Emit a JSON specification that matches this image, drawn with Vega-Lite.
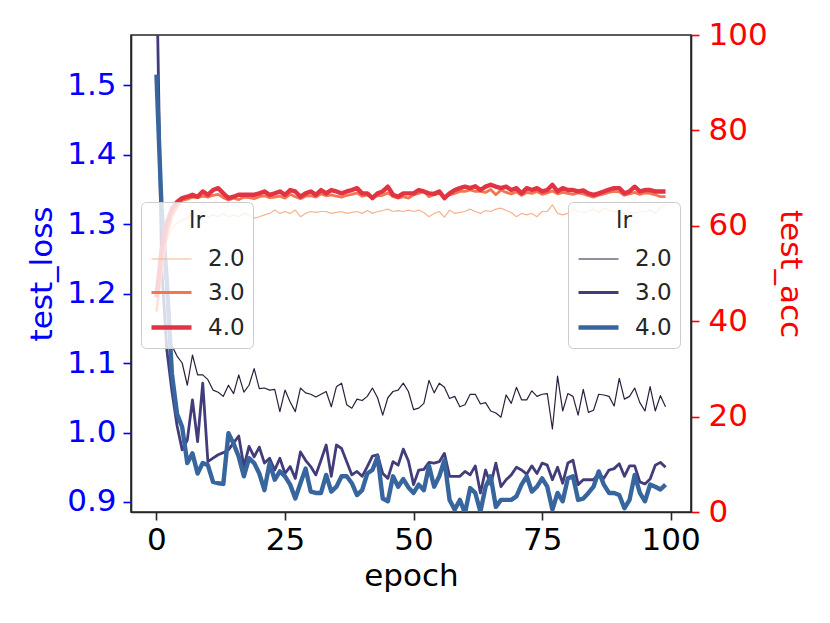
{
  "$schema": "https://vega.github.io/schema/vega-lite/v6.json",
  "width": 560,
  "height": 477,
  "autosize": "none",
  "padding": {"left": 131, "top": 35, "right": 139, "bottom": 111},
  "background": "white",
  "config": {
    "font": "DejaVu Sans",
    "view": {"stroke": "#262626", "strokeWidth": 1.6},
    "axis": {
      "labelFont": "DejaVu Sans", "titleFont": "DejaVu Sans",
      "labelFontSize": 31, "titleFontSize": 31, "titleFontWeight": "normal",
      "tickSize": 8, "tickWidth": 1.6, "domainWidth": 1.6, "domainColor": "#262626",
      "grid": false, "labelPadding": 6
    },
    "legend": {
      "orient": "none",
      "fillColor": "rgba(255,255,255,0.8)", "strokeColor": "#cccccc", "cornerRadius": 5,
      "padding": 8, "symbolType": "stroke", "symbolSize": 1600,
      "labelFont": "DejaVu Sans", "titleFont": "DejaVu Sans",
      "labelFontSize": 23, "titleFontSize": 23, "titleFontWeight": "normal",
      "titleAnchor": "middle", "titleAlign": "center", "labelColor": "#262626", "titleColor": "#262626",
      "rowPadding": -6, "labelOffset": 14
    }
  },
  "data": {"values": [
    {"epoch":0,"lr":"2.0","loss":1.64,"acc":46},{"epoch":1,"lr":"2.0","loss":1.30,"acc":53},{"epoch":2,"lr":"2.0","loss":1.19,"acc":57},{"epoch":3,"lr":"2.0","loss":1.125,"acc":59.5},{"epoch":4,"lr":"2.0","loss":1.11,"acc":60.5},
    {"epoch":5,"lr":"2.0","loss":1.10,"acc":61.2},{"epoch":6,"lr":"2.0","loss":1.068,"acc":61.6},{"epoch":7,"lr":"2.0","loss":1.1115,"acc":62.6},{"epoch":8,"lr":"2.0","loss":1.083,"acc":61.9},{"epoch":9,"lr":"2.0","loss":1.083,"acc":63.0},
    {"epoch":10,"lr":"2.0","loss":1.076,"acc":61.9},{"epoch":11,"lr":"2.0","loss":1.061,"acc":62.3},{"epoch":12,"lr":"2.0","loss":1.058,"acc":61.9},{"epoch":13,"lr":"2.0","loss":1.052,"acc":62.6},{"epoch":14,"lr":"2.0","loss":1.068,"acc":61.9},
    {"epoch":15,"lr":"2.0","loss":1.056,"acc":62.3},{"epoch":16,"lr":"2.0","loss":1.083,"acc":61.9},{"epoch":17,"lr":"2.0","loss":1.058,"acc":62.6},{"epoch":18,"lr":"2.0","loss":1.068,"acc":62.3},{"epoch":19,"lr":"2.0","loss":1.092,"acc":61.6},
    {"epoch":20,"lr":"2.0","loss":1.063,"acc":61.9},{"epoch":21,"lr":"2.0","loss":1.064,"acc":62.3},{"epoch":22,"lr":"2.0","loss":1.061,"acc":62.6},{"epoch":23,"lr":"2.0","loss":1.062,"acc":63.3},{"epoch":24,"lr":"2.0","loss":1.030,"acc":62.6},
    {"epoch":25,"lr":"2.0","loss":1.061,"acc":63.0},{"epoch":26,"lr":"2.0","loss":1.044,"acc":62.6},{"epoch":27,"lr":"2.0","loss":1.030,"acc":63.3},{"epoch":28,"lr":"2.0","loss":1.064,"acc":61.9},{"epoch":29,"lr":"2.0","loss":1.057,"acc":62.6},
    {"epoch":30,"lr":"2.0","loss":1.055,"acc":63.0},{"epoch":31,"lr":"2.0","loss":1.051,"acc":62.8},{"epoch":32,"lr":"2.0","loss":1.055,"acc":63.0},{"epoch":33,"lr":"2.0","loss":1.059,"acc":63.0},{"epoch":34,"lr":"2.0","loss":1.037,"acc":62.6},
    {"epoch":35,"lr":"2.0","loss":1.066,"acc":62.8},{"epoch":36,"lr":"2.0","loss":1.071,"acc":63.0},{"epoch":37,"lr":"2.0","loss":1.040,"acc":62.6},{"epoch":38,"lr":"2.0","loss":1.035,"acc":62.8},{"epoch":39,"lr":"2.0","loss":1.048,"acc":63.0},
    {"epoch":40,"lr":"2.0","loss":1.046,"acc":62.6},{"epoch":41,"lr":"2.0","loss":1.052,"acc":63.2},{"epoch":42,"lr":"2.0","loss":1.064,"acc":62.6},{"epoch":43,"lr":"2.0","loss":1.050,"acc":63.0},{"epoch":44,"lr":"2.0","loss":1.025,"acc":63.2},
    {"epoch":45,"lr":"2.0","loss":1.050,"acc":63.5},{"epoch":46,"lr":"2.0","loss":1.059,"acc":63.0},{"epoch":47,"lr":"2.0","loss":1.061,"acc":63.2},{"epoch":48,"lr":"2.0","loss":1.071,"acc":63.0},{"epoch":49,"lr":"2.0","loss":1.059,"acc":63.3},
    {"epoch":50,"lr":"2.0","loss":1.033,"acc":63.0},{"epoch":51,"lr":"2.0","loss":1.035,"acc":63.3},{"epoch":52,"lr":"2.0","loss":1.042,"acc":62.8},{"epoch":53,"lr":"2.0","loss":1.075,"acc":61.9},{"epoch":54,"lr":"2.0","loss":1.057,"acc":62.6},
    {"epoch":55,"lr":"2.0","loss":1.071,"acc":63.0},{"epoch":56,"lr":"2.0","loss":1.065,"acc":61.8},{"epoch":57,"lr":"2.0","loss":1.049,"acc":63.3},{"epoch":58,"lr":"2.0","loss":1.052,"acc":62.6},{"epoch":59,"lr":"2.0","loss":1.037,"acc":62.8},
    {"epoch":60,"lr":"2.0","loss":1.040,"acc":63.0},{"epoch":61,"lr":"2.0","loss":1.055,"acc":63.5},{"epoch":62,"lr":"2.0","loss":1.055,"acc":63.0},{"epoch":63,"lr":"2.0","loss":1.041,"acc":62.6},{"epoch":64,"lr":"2.0","loss":1.043,"acc":63.2},
    {"epoch":65,"lr":"2.0","loss":1.031,"acc":63.0},{"epoch":66,"lr":"2.0","loss":1.028,"acc":63.5},{"epoch":67,"lr":"2.0","loss":1.022,"acc":63.7},{"epoch":68,"lr":"2.0","loss":1.054,"acc":63.2},{"epoch":69,"lr":"2.0","loss":1.042,"acc":62.8},
    {"epoch":70,"lr":"2.0","loss":1.065,"acc":61.9},{"epoch":71,"lr":"2.0","loss":1.047,"acc":62.6},{"epoch":72,"lr":"2.0","loss":1.047,"acc":62.3},{"epoch":73,"lr":"2.0","loss":1.060,"acc":62.6},{"epoch":74,"lr":"2.0","loss":1.052,"acc":61.9},
    {"epoch":75,"lr":"2.0","loss":1.055,"acc":63.0},{"epoch":76,"lr":"2.0","loss":1.056,"acc":63.0},{"epoch":77,"lr":"2.0","loss":1.005,"acc":64.4},{"epoch":78,"lr":"2.0","loss":1.081,"acc":62.6},{"epoch":79,"lr":"2.0","loss":1.031,"acc":62.3},
    {"epoch":80,"lr":"2.0","loss":1.056,"acc":62.6},{"epoch":81,"lr":"2.0","loss":1.052,"acc":63.5},{"epoch":82,"lr":"2.0","loss":1.025,"acc":63.0},{"epoch":83,"lr":"2.0","loss":1.062,"acc":62.8},{"epoch":84,"lr":"2.0","loss":1.029,"acc":63.0},
    {"epoch":85,"lr":"2.0","loss":1.032,"acc":63.5},{"epoch":86,"lr":"2.0","loss":1.055,"acc":62.8},{"epoch":87,"lr":"2.0","loss":1.054,"acc":63.7},{"epoch":88,"lr":"2.0","loss":1.052,"acc":63.3},{"epoch":89,"lr":"2.0","loss":1.038,"acc":63.0},
    {"epoch":90,"lr":"2.0","loss":1.078,"acc":62.8},{"epoch":91,"lr":"2.0","loss":1.048,"acc":62.6},{"epoch":92,"lr":"2.0","loss":1.052,"acc":62.8},{"epoch":93,"lr":"2.0","loss":1.064,"acc":62.6},{"epoch":94,"lr":"2.0","loss":1.043,"acc":63.0},
    {"epoch":95,"lr":"2.0","loss":1.031,"acc":63.0},{"epoch":96,"lr":"2.0","loss":1.066,"acc":63.3},{"epoch":97,"lr":"2.0","loss":1.031,"acc":62.6},{"epoch":98,"lr":"2.0","loss":1.053,"acc":63.9},{"epoch":99,"lr":"2.0","loss":1.037,"acc":64.4},

    {"epoch":0,"lr":"3.0","loss":1.68,"acc":42},{"epoch":1,"lr":"3.0","loss":1.24,"acc":51},{"epoch":2,"lr":"3.0","loss":1.12,"acc":58},{"epoch":3,"lr":"3.0","loss":1.06,"acc":62},{"epoch":4,"lr":"3.0","loss":1.01,"acc":64},
    {"epoch":5,"lr":"3.0","loss":0.975,"acc":65.3},{"epoch":6,"lr":"3.0","loss":0.989,"acc":65.6},{"epoch":7,"lr":"3.0","loss":1.047,"acc":66.0},{"epoch":8,"lr":"3.0","loss":0.987,"acc":65.9},{"epoch":9,"lr":"3.0","loss":1.071,"acc":66.2},
    {"epoch":10,"lr":"3.0","loss":0.958,"acc":66.0},{"epoch":11,"lr":"3.0","loss":0.963,"acc":66.4},{"epoch":12,"lr":"3.0","loss":0.968,"acc":66.6},{"epoch":13,"lr":"3.0","loss":0.971,"acc":65.9},{"epoch":14,"lr":"3.0","loss":0.975,"acc":65.4},
    {"epoch":15,"lr":"3.0","loss":0.985,"acc":65.8},{"epoch":16,"lr":"3.0","loss":0.995,"acc":65.5},{"epoch":17,"lr":"3.0","loss":0.951,"acc":66.0},{"epoch":18,"lr":"3.0","loss":0.980,"acc":65.9},{"epoch":19,"lr":"3.0","loss":0.965,"acc":65.7},
    {"epoch":20,"lr":"3.0","loss":0.979,"acc":66.1},{"epoch":21,"lr":"3.0","loss":0.956,"acc":66.3},{"epoch":22,"lr":"3.0","loss":0.963,"acc":65.9},{"epoch":23,"lr":"3.0","loss":0.946,"acc":66.0},{"epoch":24,"lr":"3.0","loss":0.963,"acc":66.2},
    {"epoch":25,"lr":"3.0","loss":0.941,"acc":65.8},{"epoch":26,"lr":"3.0","loss":0.951,"acc":66.6},{"epoch":27,"lr":"3.0","loss":0.934,"acc":66.1},{"epoch":28,"lr":"3.0","loss":0.972,"acc":65.7},{"epoch":29,"lr":"3.0","loss":0.960,"acc":66.2},
    {"epoch":30,"lr":"3.0","loss":0.951,"acc":66.3},{"epoch":31,"lr":"3.0","loss":0.939,"acc":66.0},{"epoch":32,"lr":"3.0","loss":0.960,"acc":66.7},{"epoch":33,"lr":"3.0","loss":0.982,"acc":66.3},{"epoch":34,"lr":"3.0","loss":0.937,"acc":66.5},
    {"epoch":35,"lr":"3.0","loss":0.982,"acc":66.2},{"epoch":36,"lr":"3.0","loss":0.977,"acc":66.0},{"epoch":37,"lr":"3.0","loss":0.958,"acc":66.4},{"epoch":38,"lr":"3.0","loss":0.939,"acc":66.6},{"epoch":39,"lr":"3.0","loss":0.944,"acc":66.9},
    {"epoch":40,"lr":"3.0","loss":0.937,"acc":66.2},{"epoch":41,"lr":"3.0","loss":0.951,"acc":66.5},{"epoch":42,"lr":"3.0","loss":0.966,"acc":66.0},{"epoch":43,"lr":"3.0","loss":0.968,"acc":66.3},{"epoch":44,"lr":"3.0","loss":0.941,"acc":66.4},
    {"epoch":45,"lr":"3.0","loss":0.934,"acc":66.9},{"epoch":46,"lr":"3.0","loss":0.958,"acc":66.1},{"epoch":47,"lr":"3.0","loss":0.953,"acc":65.8},{"epoch":48,"lr":"3.0","loss":0.976,"acc":66.1},{"epoch":49,"lr":"3.0","loss":0.959,"acc":65.8},
    {"epoch":50,"lr":"3.0","loss":0.925,"acc":66.5},{"epoch":51,"lr":"3.0","loss":0.946,"acc":66.8},{"epoch":52,"lr":"3.0","loss":0.947,"acc":67.2},{"epoch":53,"lr":"3.0","loss":0.957,"acc":66.1},{"epoch":54,"lr":"3.0","loss":0.956,"acc":66.5},
    {"epoch":55,"lr":"3.0","loss":0.958,"acc":66.8},{"epoch":56,"lr":"3.0","loss":0.970,"acc":66.1},{"epoch":57,"lr":"3.0","loss":0.937,"acc":66.5},{"epoch":58,"lr":"3.0","loss":0.937,"acc":66.8},{"epoch":59,"lr":"3.0","loss":0.937,"acc":67.2},
    {"epoch":60,"lr":"3.0","loss":0.944,"acc":67.2},{"epoch":61,"lr":"3.0","loss":0.939,"acc":67.5},{"epoch":62,"lr":"3.0","loss":0.952,"acc":67.2},{"epoch":63,"lr":"3.0","loss":0.913,"acc":67.2},{"epoch":64,"lr":"3.0","loss":0.946,"acc":67.0},
    {"epoch":65,"lr":"3.0","loss":0.925,"acc":67.6},{"epoch":66,"lr":"3.0","loss":0.956,"acc":66.5},{"epoch":67,"lr":"3.0","loss":0.922,"acc":67.5},{"epoch":68,"lr":"3.0","loss":0.932,"acc":67.0},{"epoch":69,"lr":"3.0","loss":0.939,"acc":66.7},
    {"epoch":70,"lr":"3.0","loss":0.950,"acc":67.1},{"epoch":71,"lr":"3.0","loss":0.946,"acc":66.4},{"epoch":72,"lr":"3.0","loss":0.940,"acc":67.0},{"epoch":73,"lr":"3.0","loss":0.952,"acc":66.8},{"epoch":74,"lr":"3.0","loss":0.941,"acc":67.2},
    {"epoch":75,"lr":"3.0","loss":0.956,"acc":66.6},{"epoch":76,"lr":"3.0","loss":0.953,"acc":66.9},{"epoch":77,"lr":"3.0","loss":0.932,"acc":67.3},{"epoch":78,"lr":"3.0","loss":0.950,"acc":66.7},{"epoch":79,"lr":"3.0","loss":0.927,"acc":67.0},
    {"epoch":80,"lr":"3.0","loss":0.956,"acc":66.8},{"epoch":81,"lr":"3.0","loss":0.960,"acc":66.6},{"epoch":82,"lr":"3.0","loss":0.925,"acc":66.9},{"epoch":83,"lr":"3.0","loss":0.932,"acc":66.7},{"epoch":84,"lr":"3.0","loss":0.932,"acc":66.3},
    {"epoch":85,"lr":"3.0","loss":0.932,"acc":66.0},{"epoch":86,"lr":"3.0","loss":0.941,"acc":66.4},{"epoch":87,"lr":"3.0","loss":0.934,"acc":66.7},{"epoch":88,"lr":"3.0","loss":0.946,"acc":67.0},{"epoch":89,"lr":"3.0","loss":0.948,"acc":67.2},
    {"epoch":90,"lr":"3.0","loss":0.955,"acc":67.1},{"epoch":91,"lr":"3.0","loss":0.937,"acc":66.4},{"epoch":92,"lr":"3.0","loss":0.952,"acc":66.7},{"epoch":93,"lr":"3.0","loss":0.952,"acc":67.0},{"epoch":94,"lr":"3.0","loss":0.929,"acc":66.6},
    {"epoch":95,"lr":"3.0","loss":0.926,"acc":66.9},{"epoch":96,"lr":"3.0","loss":0.933,"acc":66.8},{"epoch":97,"lr":"3.0","loss":0.953,"acc":66.5},{"epoch":98,"lr":"3.0","loss":0.957,"acc":66.1},{"epoch":99,"lr":"3.0","loss":0.950,"acc":66.1},

    {"epoch":0,"lr":"4.0","loss":1.515,"acc":45},{"epoch":1,"lr":"4.0","loss":1.32,"acc":55},{"epoch":2,"lr":"4.0","loss":1.22,"acc":60.5},{"epoch":3,"lr":"4.0","loss":1.085,"acc":63.5},{"epoch":4,"lr":"4.0","loss":1.027,"acc":65},
    {"epoch":5,"lr":"4.0","loss":1.008,"acc":65.8},{"epoch":6,"lr":"4.0","loss":0.956,"acc":66.1},{"epoch":7,"lr":"4.0","loss":0.970,"acc":66.5},{"epoch":8,"lr":"4.0","loss":0.941,"acc":66.1},{"epoch":9,"lr":"4.0","loss":0.956,"acc":67.2},
    {"epoch":10,"lr":"4.0","loss":0.953,"acc":66.5},{"epoch":11,"lr":"4.0","loss":0.929,"acc":67.5},{"epoch":12,"lr":"4.0","loss":0.927,"acc":67.9},{"epoch":13,"lr":"4.0","loss":0.926,"acc":66.8},{"epoch":14,"lr":"4.0","loss":0.999,"acc":65.8},
    {"epoch":15,"lr":"4.0","loss":0.984,"acc":66.1},{"epoch":16,"lr":"4.0","loss":0.965,"acc":66.5},{"epoch":17,"lr":"4.0","loss":0.937,"acc":66.5},{"epoch":18,"lr":"4.0","loss":0.963,"acc":66.5},{"epoch":19,"lr":"4.0","loss":0.956,"acc":66.5},
    {"epoch":20,"lr":"4.0","loss":0.941,"acc":66.8},{"epoch":21,"lr":"4.0","loss":0.917,"acc":67.2},{"epoch":22,"lr":"4.0","loss":0.956,"acc":66.5},{"epoch":23,"lr":"4.0","loss":0.932,"acc":66.8},{"epoch":24,"lr":"4.0","loss":0.944,"acc":67.2},
    {"epoch":25,"lr":"4.0","loss":0.937,"acc":66.5},{"epoch":26,"lr":"4.0","loss":0.925,"acc":67.5},{"epoch":27,"lr":"4.0","loss":0.905,"acc":67.2},{"epoch":28,"lr":"4.0","loss":0.927,"acc":66.1},{"epoch":29,"lr":"4.0","loss":0.948,"acc":66.8},
    {"epoch":30,"lr":"4.0","loss":0.915,"acc":67.2},{"epoch":31,"lr":"4.0","loss":0.913,"acc":66.5},{"epoch":32,"lr":"4.0","loss":0.913,"acc":67.5},{"epoch":33,"lr":"4.0","loss":0.939,"acc":66.8},{"epoch":34,"lr":"4.0","loss":0.915,"acc":67.5},
    {"epoch":35,"lr":"4.0","loss":0.922,"acc":67.2},{"epoch":36,"lr":"4.0","loss":0.937,"acc":66.8},{"epoch":37,"lr":"4.0","loss":0.937,"acc":67.2},{"epoch":38,"lr":"4.0","loss":0.927,"acc":67.5},{"epoch":39,"lr":"4.0","loss":0.910,"acc":67.9},
    {"epoch":40,"lr":"4.0","loss":0.917,"acc":66.8},{"epoch":41,"lr":"4.0","loss":0.941,"acc":66.8},{"epoch":42,"lr":"4.0","loss":0.946,"acc":65.8},{"epoch":43,"lr":"4.0","loss":0.965,"acc":66.8},{"epoch":44,"lr":"4.0","loss":0.905,"acc":67.2},
    {"epoch":45,"lr":"4.0","loss":0.901,"acc":68.2},{"epoch":46,"lr":"4.0","loss":0.937,"acc":66.5},{"epoch":47,"lr":"4.0","loss":0.922,"acc":66.1},{"epoch":48,"lr":"4.0","loss":0.933,"acc":66.8},{"epoch":49,"lr":"4.0","loss":0.921,"acc":66.8},
    {"epoch":50,"lr":"4.0","loss":0.913,"acc":66.8},{"epoch":51,"lr":"4.0","loss":0.925,"acc":67.5},{"epoch":52,"lr":"4.0","loss":0.917,"acc":67.2},{"epoch":53,"lr":"4.0","loss":0.952,"acc":66.8},{"epoch":54,"lr":"4.0","loss":0.922,"acc":66.7},
    {"epoch":55,"lr":"4.0","loss":0.937,"acc":67.2},{"epoch":56,"lr":"4.0","loss":0.960,"acc":65.8},{"epoch":57,"lr":"4.0","loss":0.903,"acc":66.8},{"epoch":58,"lr":"4.0","loss":0.889,"acc":67.5},{"epoch":59,"lr":"4.0","loss":0.903,"acc":67.9},
    {"epoch":60,"lr":"4.0","loss":0.884,"acc":68.2},{"epoch":61,"lr":"4.0","loss":0.920,"acc":67.9},{"epoch":62,"lr":"4.0","loss":0.913,"acc":68.3},{"epoch":63,"lr":"4.0","loss":0.886,"acc":67.5},{"epoch":64,"lr":"4.0","loss":0.922,"acc":68.2},
    {"epoch":65,"lr":"4.0","loss":0.937,"acc":68.6},{"epoch":66,"lr":"4.0","loss":0.893,"acc":68.2},{"epoch":67,"lr":"4.0","loss":0.903,"acc":67.9},{"epoch":68,"lr":"4.0","loss":0.903,"acc":68.2},{"epoch":69,"lr":"4.0","loss":0.903,"acc":67.5},
    {"epoch":70,"lr":"4.0","loss":0.908,"acc":67.9},{"epoch":71,"lr":"4.0","loss":0.925,"acc":66.8},{"epoch":72,"lr":"4.0","loss":0.937,"acc":67.9},{"epoch":73,"lr":"4.0","loss":0.915,"acc":67.5},{"epoch":74,"lr":"4.0","loss":0.922,"acc":67.9},
    {"epoch":75,"lr":"4.0","loss":0.934,"acc":67.2},{"epoch":76,"lr":"4.0","loss":0.922,"acc":67.5},{"epoch":77,"lr":"4.0","loss":0.889,"acc":68.6},{"epoch":78,"lr":"4.0","loss":0.913,"acc":67.2},{"epoch":79,"lr":"4.0","loss":0.901,"acc":67.9},
    {"epoch":80,"lr":"4.0","loss":0.934,"acc":67.5},{"epoch":81,"lr":"4.0","loss":0.937,"acc":67.5},{"epoch":82,"lr":"4.0","loss":0.903,"acc":67.2},{"epoch":83,"lr":"4.0","loss":0.905,"acc":67.4},{"epoch":84,"lr":"4.0","loss":0.913,"acc":66.8},
    {"epoch":85,"lr":"4.0","loss":0.922,"acc":66.5},{"epoch":86,"lr":"4.0","loss":0.944,"acc":66.8},{"epoch":87,"lr":"4.0","loss":0.925,"acc":67.2},{"epoch":88,"lr":"4.0","loss":0.913,"acc":67.6},{"epoch":89,"lr":"4.0","loss":0.913,"acc":67.9},
    {"epoch":90,"lr":"4.0","loss":0.910,"acc":67.9},{"epoch":91,"lr":"4.0","loss":0.891,"acc":66.8},{"epoch":92,"lr":"4.0","loss":0.903,"acc":67.2},{"epoch":93,"lr":"4.0","loss":0.939,"acc":68.2},{"epoch":94,"lr":"4.0","loss":0.913,"acc":67.2},
    {"epoch":95,"lr":"4.0","loss":0.901,"acc":67.5},{"epoch":96,"lr":"4.0","loss":0.925,"acc":67.5},{"epoch":97,"lr":"4.0","loss":0.922,"acc":67.2},{"epoch":98,"lr":"4.0","loss":0.918,"acc":67.2},{"epoch":99,"lr":"4.0","loss":0.925,"acc":67.2}
  ]},
  "encoding": {
    "x": {
      "field": "epoch", "type": "quantitative",
      "scale": {"domain": [-4.95, 103.95], "nice": false, "zero": false},
      "axis": {"values": [0, 25, 50, 75, 100], "title": "epoch", "labelColor": "black", "titleColor": "black", "tickColor": "#262626", "labelFlush": false, "labelPadding": 5, "titlePadding": 6}
    }
  },
  "layer": [
    {
      "mark": {"type": "line", "clip": true, "strokeJoin": "round"},
      "encoding": {
        "y": {
          "field": "loss", "type": "quantitative",
          "scale": {"domain": [0.8856, 1.572], "nice": false, "zero": false},
          "axis": {"orient": "left", "title": "test_loss", "values": [0.9, 1.0, 1.1, 1.2, 1.3, 1.4, 1.5], "format": ".1f", "labelColor": "blue", "titleColor": "blue", "tickColor": "blue", "labelPadding": 7, "titlePadding": 8}
        },
        "color": {
          "field": "lr", "type": "ordinal", "title": "lr",
          "scale": {"domain": ["2.0", "3.0", "4.0"], "range": ["#2e1e3b", "#413d7b", "#37659e"]},
          "legend": {"legendX": 437, "legendY": 167, "titleAnchor": "middle", "titleAlign": "center"}
        },
        "strokeWidth": {
          "field": "lr", "type": "ordinal", "title": "lr",
          "scale": {"type": "point", "padding": 0, "domain": ["2.0", "3.0", "4.0"], "range": [1.2, 4.4]},
          "legend": {"legendX": 437, "legendY": 167, "titleAnchor": "middle", "titleAlign": "center"}
        }
      }
    },
    {
      "mark": {"type": "line", "clip": true, "strokeJoin": "round"},
      "encoding": {
        "y": {
          "field": "acc", "type": "quantitative",
          "scale": {"domain": [0, 100], "nice": false},
          "axis": {"orient": "right", "title": "test_acc", "values": [0, 20, 40, 60, 80, 100], "labelColor": "red", "titleColor": "red", "tickColor": "red", "labelPadding": 9, "titlePadding": 6}
        },
        "color": {
          "field": "lr", "type": "ordinal", "title": "lr",
          "scale": {"domain": ["2.0", "3.0", "4.0"], "range": ["#f6b48f", "#f37651", "#e13342"]},
          "legend": {"legendX": 10, "legendY": 167, "titleAnchor": "middle", "titleAlign": "center"}
        },
        "strokeWidth": {
          "field": "lr", "type": "ordinal", "title": "lr",
          "scale": {"type": "point", "padding": 0, "domain": ["2.0", "3.0", "4.0"], "range": [1.2, 4.4]},
          "legend": {"legendX": 10, "legendY": 167, "titleAnchor": "middle", "titleAlign": "center"}
        }
      }
    }
  ],
  "resolve": {
    "scale": {"y": "independent", "color": "independent", "strokeWidth": "independent"},
    "legend": {"color": "independent", "strokeWidth": "independent"}
  }
}
